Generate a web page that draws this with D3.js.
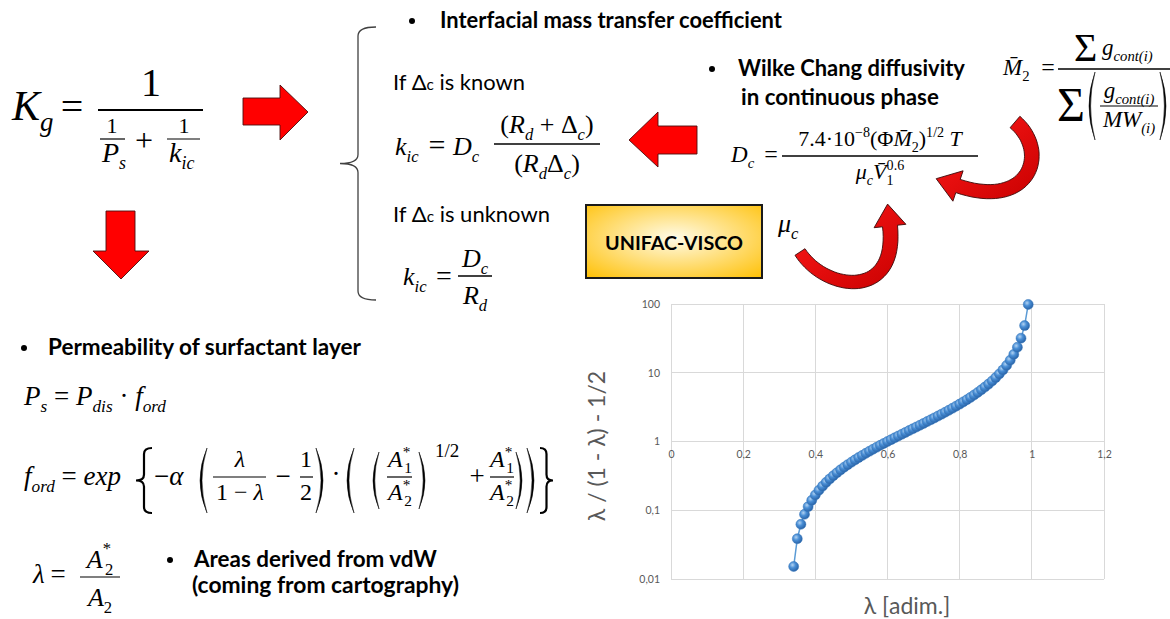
<!DOCTYPE html>
<html><head><meta charset="utf-8">
<script src="https://cdn.jsdelivr.net/npm/d3@7"></script>
<style>html,body{margin:0;padding:0;background:#fff}svg{display:block}</style>
</head><body>
<svg id="s" width="1170" height="619"></svg>
<script>
// ---------- DATA ----------
const lambdaValues = [0.34,0.35,0.36,0.37,0.38,0.39,0.40,0.41,0.42,0.43,0.44,0.45,0.46,0.47,0.48,0.49,0.50,0.51,0.52,0.53,0.54,0.55,0.56,0.57,0.58,0.59,0.60,0.61,0.62,0.63,0.64,0.65,0.66,0.67,0.68,0.69,0.70,0.71,0.72,0.73,0.74,0.75,0.76,0.77,0.78,0.79,0.80,0.81,0.82,0.83,0.84,0.85,0.86,0.87,0.88,0.89,0.90,0.91,0.92,0.93,0.94,0.95,0.96,0.97,0.98,0.99];
const ratioValues = [0.0152,0.0385,0.0625,0.0873,0.1129,0.1393,0.1667,0.1949,0.2241,0.2544,0.2857,0.3182,0.3519,0.3868,0.4231,0.4608,0.5,0.5408,0.5833,0.6277,0.6739,0.7222,0.7727,0.8256,0.881,0.939,1.0,1.0641,1.1316,1.2027,1.2778,1.3571,1.4412,1.5303,1.625,1.7258,1.8333,1.9483,2.0714,2.2037,2.3462,2.5,2.6667,2.8478,3.0455,3.2619,3.5,3.7632,4.0556,4.3824,4.75,5.1667,5.6429,6.1923,6.8333,7.5909,8.5,9.6111,11.0,12.7857,15.1667,18.5,23.5,31.8333,48.5,98.5];
const xTicks = [0,0.2,0.4,0.6,0.8,1,1.2];
const xTickLabels = ["0","0,2","0,4","0,6","0,8","1","1,2"];
const yTicks = [0.01,0.1,1,10,100];
const yTickLabels = ["0,01","0,1","1","10","100"];
const xTitle = "λ [adim.]";
const yTitle = "λ / (1 - λ) - 1/2";

// ---------- SETUP ----------
const SERIF = "'Liberation Serif','Times New Roman',serif";
const SANS = "Lato,'Open Sans','DejaVu Sans',sans-serif";
const svg = d3.select("#s");
const defs = svg.append("defs");

// ---------- CHART ----------
const x = d3.scaleLinear().domain([0,1.2]).range([671,1104]);
const y = d3.scaleLog().domain([0.01,100]).range([579,304]);
const chart = svg.append("g");
const grid = "#d9d9d9";
chart.append("g").selectAll("line").data(yTicks).join("line")
  .attr("x1",x(0)).attr("x2",x(1.2)).attr("y1",d=>y(d)).attr("y2",d=>y(d))
  .attr("stroke",grid).attr("stroke-width",1).attr("shape-rendering","crispEdges");
chart.append("g").selectAll("line").data(xTicks).join("line")
  .attr("x1",d=>x(d)).attr("x2",d=>x(d)).attr("y1",y(100)).attr("y2",y(0.01))
  .attr("stroke",grid).attr("stroke-width",1).attr("shape-rendering","crispEdges");

const xAxis = d3.axisBottom(x).tickValues(xTicks).tickFormat((d,i)=>xTickLabels[i]).tickSize(0).tickPadding(9);
const xg = chart.append("g").attr("transform",`translate(0,${y(1)})`).call(xAxis);
xg.select(".domain").remove();
xg.selectAll("text").attr("font-family",SANS).attr("font-size",10.5).attr("fill","#595959");
const yAxis = d3.axisLeft(y).tickValues(yTicks).tickFormat((d,i)=>yTickLabels[i]).tickSize(0).tickPadding(11);
const yg = chart.append("g").attr("transform",`translate(${x(0)},0)`).call(yAxis);
yg.select(".domain").remove();
yg.selectAll("text").attr("font-family",SANS).attr("font-size",10.5).attr("fill","#595959");

const pts = lambdaValues.map((l,i)=>[l,ratioValues[i]]);
chart.append("path").datum(pts)
  .attr("d",d3.line().x(d=>x(d[0])).y(d=>y(d[1])))
  .attr("fill","none").attr("stroke","#5b9bd5").attr("stroke-width",1.5);
const rg = defs.append("radialGradient").attr("id","ball").attr("cx","38%").attr("cy","35%").attr("r","65%");
rg.append("stop").attr("offset","0%").attr("stop-color","#b3d3f2");
rg.append("stop").attr("offset","45%").attr("stop-color","#4a8fd6");
rg.append("stop").attr("offset","100%").attr("stop-color","#2a64a8");
chart.append("g").selectAll("circle").data(pts).join("circle")
  .attr("cx",d=>x(d[0])).attr("cy",d=>y(d[1])).attr("r",5)
  .attr("fill","url(#ball)").attr("stroke","#3677bb").attr("stroke-width",0.5);

chart.append("text").attr("x",907).attr("y",614).attr("text-anchor","middle")
  .attr("font-family",SANS).attr("font-size",23).attr("fill","#595959").text(xTitle);
chart.append("text").attr("transform","translate(605,446) rotate(-90)").attr("text-anchor","middle")
  .attr("font-family",SANS).attr("font-size",23).attr("fill","#595959").text(yTitle);

// ---------- HELPERS ----------
function eq(x0,y0,size,tokens,opt={}){
  const t = svg.append("text").attr("x",x0).attr("y",y0).attr("font-family",SERIF)
    .attr("font-size",size).attr("fill","#000");
  if(opt.anchor) t.attr("text-anchor",opt.anchor);
  let shift=0;
  tokens.forEach(tok=>{
    const s=tok[0], f=tok[1]||"", ex=tok[2]||{};
    const ts=t.append("tspan").text(s);
    let fs=size, target=0;
    if(f.includes("b")){fs=size*0.64;target=size*0.25;}
    if(f.includes("p")){fs=size*0.64;target=-size*0.42;}
    if(ex.fs) fs=ex.fs;
    if(ex.sh!==undefined) target=ex.sh;
    ts.attr("font-size",fs).attr("font-style",f.includes("i")?"italic":"normal");
    if(target!==shift){ts.attr("dy",target-shift);shift=target;}
    if(ex.dx) ts.attr("dx",ex.dx);
  });
  return t;
}
function hline(x1,x2,yy,w=1.3){
  svg.append("line").attr("x1",x1).attr("x2",x2).attr("y1",yy).attr("y2",yy)
    .attr("stroke","#000").attr("stroke-width",w);
}
function paren(xb,y0,y1,left,w=7,t=2){
  const s = left?1:-1, ym=(y0+y1)/2;
  const xe = xb+s*w;
  const d=`M${xe},${y0} Q${xb-s*w},${ym} ${xe},${y1} Q${xb-s*w+s*2*t},${ym} ${xe},${y0} Z`;
  svg.append("path").attr("d",d).attr("fill","#000").attr("stroke","#000").attr("stroke-width",0.5);
}
function brace(xTip,xEnd,y0,y1,r,sw,col="#000"){
  const xm=(xTip+xEnd)/2, ym=(y0+y1)/2;
  const d=`M${xEnd},${y0} Q${xm},${y0} ${xm},${y0+r} L${xm},${ym-r} Q${xm},${ym} ${xTip},${ym} Q${xm},${ym} ${xm},${ym+r} L${xm},${y1-r} Q${xm},${y1} ${xEnd},${y1}`;
  svg.append("path").attr("d",d).attr("fill","none").attr("stroke",col).attr("stroke-width",sw);
}
function fitText(x0,y0,parts,target,bold){
  const t=svg.append("text").attr("x",x0).attr("y",y0).attr("font-family",SANS)
    .attr("font-weight",bold?700:400).attr("fill","#000").attr("font-size",20);
  parts.forEach(p=>{const ts=t.append("tspan").text(p[0]); if(p[1]) ts.style("font-size",p[1]);});
  const len=t.node().getComputedTextLength();
  t.attr("font-size",20*target/len);
  return t;
}
function bullet(x0,y0){
  svg.append("circle").attr("cx",x0+3).attr("cy",y0-7).attr("r",3).attr("fill","#000");
}
function poly(points,fill){
  svg.append("polygon").attr("points",points.map(p=>p.join(",")).join(" "))
    .attr("fill",fill).attr("stroke","#4a0d0d").attr("stroke-width",0.9).attr("stroke-linejoin","miter");
}
function curvedArrow(p0,p1,p2,p3,w0,w1,hl,hw){
  const N=40, L=[], R=[];
  const bez=(t)=>{const u=1-t;return [u*u*u*p0[0]+3*u*u*t*p1[0]+3*u*t*t*p2[0]+t*t*t*p3[0],
    u*u*u*p0[1]+3*u*u*t*p1[1]+3*u*t*t*p2[1]+t*t*t*p3[1]];};
  const der=(t)=>{const u=1-t;return [3*u*u*(p1[0]-p0[0])+6*u*t*(p2[0]-p1[0])+3*t*t*(p3[0]-p2[0]),
    3*u*u*(p1[1]-p0[1])+6*u*t*(p2[1]-p1[1])+3*t*t*(p3[1]-p2[1])];};
  for(let i=0;i<=N;i++){
    const t=i/N, p=bez(t), d=der(t), l=Math.hypot(d[0],d[1]);
    const nx=-d[1]/l, ny=d[0]/l, w=(w0+(w1-w0)*t)/2;
    L.push([p[0]+nx*w,p[1]+ny*w]); R.push([p[0]-nx*w,p[1]-ny*w]);
  }
  const e=bez(1), d=der(1), l=Math.hypot(d[0],d[1]); const tx=d[0]/l, ty=d[1]/l, nx=-ty, ny=tx;
  const tip=[e[0]+tx*hl,e[1]+ty*hl];
  const wl=[e[0]+nx*hw/2,e[1]+ny*hw/2], wr=[e[0]-nx*hw/2,e[1]-ny*hw/2];
  const all=[...L,wl,tip,wr,...R.reverse()];
  svg.append("path").attr("d","M"+all.map(p=>p[0].toFixed(1)+","+p[1].toFixed(1)).join("L")+"Z")
    .attr("fill","url(#redg)").attr("stroke","#3b0a0a").attr("stroke-width",0.9);
}
const redg=defs.append("linearGradient").attr("id","redg").attr("x1","0").attr("y1","0").attr("x2","1").attr("y2","1");
redg.append("stop").attr("offset","0%").attr("stop-color","#ff1a1a");
redg.append("stop").attr("offset","100%").attr("stop-color","#c80000");

// ---------- K_g equation ----------
eq(12,120,42,[["K","i"],["g","ib"]]);
eq(72,120,40,[["="]],{anchor:"middle"});
hline(98,203,110,1.8);
eq(151,96,40,[["1"]],{anchor:"middle"});
eq(112,133,22,[["1"]],{anchor:"middle"}); hline(100,125,139,1.2);
eq(102,162,28,[["P","i"],["s","ib"]]);
eq(144,151,32,[["+"]],{anchor:"middle"});
eq(184,133,22,[["1"]],{anchor:"middle"}); hline(167,200,139,1.2);
eq(169,162,28,[["k","i"],["ic","ib"]]);

// straight arrows
poly([[243,98],[280,98],[280,85],[308,112],[280,140],[280,125],[243,125]],"#ff0000");
poly([[106,211],[135,211],[135,251],[149,251],[121,279],[93,251],[106,251]],"#ff0000");
poly([[697,126],[658,126],[658,112],[629,140],[658,167],[658,154],[697,154]],"#ff0000");

// section brace
brace(340,376,27,300,9,1.3,"#404040");

// headings
bullet(409,28); fitText(440,28,[["Interfacial mass transfer coefficient"]],342,true);
fitText(393,90,[["If Δ"],["c","70%"],[" is known"]],132,false);
fitText(393,222,[["If Δ"],["c","70%"],[" is unknown"]],157,false);

// k_ic (known)
eq(395,155,26,[["k","i"],["ic","ib"]]);
eq(437,155,30,[["="]],{anchor:"middle"});
eq(453,155,26,[["D","i"],["c","ib"]]);
hline(494,600,144,1.3);
eq(547,133,26,[["("],["R","i"],["d","ib"],[" + "],["Δ"],["c","ib"],[")"]],{anchor:"middle"});
eq(547,172,26,[["("],["R","i"],["d","ib"],["Δ"],["c","ib"],[")"]],{anchor:"middle"});

// k_ic (unknown)
eq(403,285,26,[["k","i"],["ic","ib"]]);
eq(444,285,28,[["="]],{anchor:"middle"});
hline(458,492,276,1.3);
eq(475,267,26,[["D","i"],["c","ib"]],{anchor:"middle"});
eq(475,304,26,[["R","i"],["d","ib"]],{anchor:"middle"});

// UNIFAC box
const ug=defs.append("radialGradient").attr("id","gold").attr("cx","50%").attr("cy","45%").attr("r","75%");
ug.append("stop").attr("offset","0%").attr("stop-color","#fffbe8");
ug.append("stop").attr("offset","100%").attr("stop-color","#ffbf00");
svg.append("rect").attr("x",586).attr("y",205).attr("width",176).attr("height",73)
  .attr("fill","url(#gold)").attr("stroke","#1a1a1a").attr("stroke-width",2);
fitText(605,250,[["UNIFAC-VISCO"]],138,true);

// mu_c
eq(778,232,26,[["μ","i"],["c","ib"]]);

// Wilke Chang
bullet(709,76); fitText(738,76,[["Wilke Chang diffusivity"]],227,true);
fitText(741,105,[["in continuous phase"]],198,true);

// D_c equation
eq(731,162,23,[["D","i"],["c","ib"]]);
eq(771,162,24,[["="]],{anchor:"middle"});
hline(782,978,156,1.3);
eq(880,146,22,[["7.4·10"],["−8","p"],["(Φ"],["M\u0304","i"],["2","b"],[")"],["1/2","p"],[" "],["T","i"]],{anchor:"middle"});
eq(880,179,22,[["μ","i"],["c","ib"],["V\u0304","i"],["1","b"],["0.6","p",{dx:-7}]],{anchor:"middle"});

// M2 equation
eq(1003,75,23,[["M\u0304","i"],["2","b"]]);
eq(1048,75,24,[["="]],{anchor:"middle"});
hline(1058,1180,69,1.3);
eq(1074,61,40,[["Σ"]]);
eq(1102,55,23,[["g","i"],["cont(i)","ib"]]);
eq(1057,121,48,[["Σ"]]);
paren(1089,72,140,true,6,1.6);
eq(1129,98,23,[["g","i"],["cont(i)","ib"]],{anchor:"middle"});
hline(1100,1158,106,1.2);
eq(1129,127,23,[["MW","i"],["(i)","ib"]],{anchor:"middle"});
paren(1166,72,140,false,6,1.6);

// curved arrows
curvedArrow([1015,122],[1050,152],[1030,210],[958,186],15,14,23,32);
curvedArrow([800,252],[826,292],[898,300],[890,226],12,15,22,32);

// Permeability
bullet(21,355); fitText(48,355,[["Permeability of surfactant layer"]],313,true);
eq(24,405,27,[["P","i"],["s","ib"],[" = "],["P","i"],["dis","ib"],[" · "],["f","i"],["ord","ib"]]);

// f_ord equation
eq(24,485,27,[["f","i"],["ord","ib"],[" = "],["exp","i"]]);
brace(136,152,448,513,6,2.2);
eq(154,485,27,[["−"],["α","i"]]);
paren(200,448,513,true,7,2);
hline(213,266,477,1.2);
eq(240,467,24,[["λ","i"]],{anchor:"middle"});
eq(240,500,24,[["1 − "],["λ","i"]],{anchor:"middle"});
eq(283,485,27,[["−"]],{anchor:"middle"});
hline(300,313,477,1.2);
eq(306,467,24,[["1"]],{anchor:"middle"});
eq(306,500,24,[["2"]],{anchor:"middle"});
paren(323,448,513,false,7,2);
eq(336,483,27,[["·"]],{anchor:"middle"});
paren(347,448,513,true,7,2);
paren(373,452,509,true,6,1.8);
hline(387,412,477,1.2);
eq(400,467,24,[["A","i"],["*","p"],["1","b",{dx:-6}]],{anchor:"middle"});
eq(400,500,24,[["A","i"],["*","p"],["2","b",{dx:-6}]],{anchor:"middle"});
paren(425,452,509,false,6,1.8);
eq(435,457,19,[["1/2"]]);
eq(477,485,27,[["+"]],{anchor:"middle"});
hline(490,514,477,1.2);
eq(502,467,24,[["A","i"],["*","p"],["1","b",{dx:-6}]],{anchor:"middle"});
eq(502,500,24,[["A","i"],["*","p"],["2","b",{dx:-6}]],{anchor:"middle"});
paren(522,452,509,false,6,1.8);
paren(534,448,513,false,7,2);
brace(553,540,448,513,6,2.2);

// lambda definition
eq(33,583,27,[["λ","i"]]);
eq(58,583,27,[["="]],{anchor:"middle"});
hline(80,120,577,1.2);
eq(100,568,26,[["A","i"],["*","p",{sh:-14}],["2","b",{dx:-6}]],{anchor:"middle"});
eq(100,606,26,[["A","i"],["2","b"]],{anchor:"middle"});

bullet(167,567); fitText(194,567,[["Areas derived from vdW"]],243,true);
fitText(192,593,[["(coming from cartography)"]],267,true);
</script>
</body></html>
